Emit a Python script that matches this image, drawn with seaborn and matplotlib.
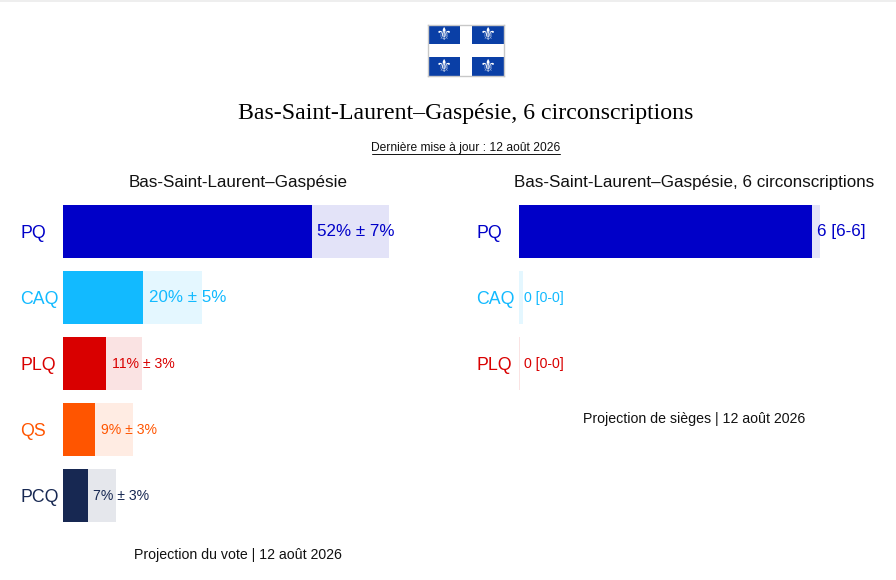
import pandas as pd
import matplotlib
matplotlib.use("Agg")
import matplotlib.pyplot as plt
import seaborn as sns
from matplotlib.lines import Line2D
from matplotlib.patches import Rectangle

W, H = 896, 580

vote_parties = ["PQ", "CAQ", "PLQ", "QS", "PCQ"]
vote_low = [45, 14.5, 7.8, 5.8, 4.5]
vote_high = [59, 25.2, 14.3, 12.7, 9.6]
vote_labels = ["52% ± 7%", "20% ± 5%", "11% ± 3%", "9% ± 3%", "7% ± 3%"]
vote_label_px = [17, 17, 14, 14, 14]

seat_parties = ["PQ", "CAQ", "PLQ"]
seat_low = [6, 0, 0]
seat_high = [6.16, 0.09, 0.02]
seat_labels = ["6 [6-6]", "0 [0-0]", "0 [0-0]"]
seat_label_px = [17, 14, 14]

party_colors = {
    "PQ": "#0000C8",
    "CAQ": "#12BAFF",
    "PLQ": "#D90000",
    "QS": "#FF5500",
    "PCQ": "#172852",
}

sns.set_theme(style="white")
plt.rcParams["font.family"] = ["Liberation Sans", "DejaVu Sans"]


def px(size):
    return size * 0.72


def box(left, top, right, bottom):
    return [left / W, 1 - bottom / H, (right - left) / W, (bottom - top) / H]


def put_text(x, y, text, size, **kwargs):
    return fig.text(x / W, 1 - y / H, text, fontsize=px(size), ha="center",
                    va="center", color=kwargs.pop("color", "#111111"), **kwargs)


def draw_bars(ax, parties, low, high, labels, label_px, xmax, pad):
    df = pd.DataFrame({"party": parties, "low": low, "high": high})
    sns.barplot(data=df, y="party", x="high", hue="party", palette=party_colors,
                order=parties, hue_order=parties, width=53 / 66, alpha=0.11,
                legend=False, dodge=False, saturation=1, linewidth=0, ax=ax)
    sns.barplot(data=df, y="party", x="low", hue="party", palette=party_colors,
                order=parties, hue_order=parties, width=53 / 66,
                legend=False, dodge=False, saturation=1, linewidth=0, ax=ax)
    ax.set_xlim(0, xmax)
    ax.set_xlabel("")
    ax.set_ylabel("")
    ax.set_xticks([])
    sns.despine(ax=ax, left=True, bottom=True)
    ax.patch.set_alpha(0)
    ax.tick_params(axis="y", length=0, pad=px(pad))
    for tick, party in zip(ax.get_yticklabels(), parties):
        tick.set_color(party_colors[party])
        tick.set_ha("left")
        tick.set_fontsize(px(17.8))
    for i, party in enumerate(parties):
        ax.annotate(labels[i], xy=(low[i], i), xytext=(px(5.5), px(-0.8)),
                    textcoords="offset points", va="center", ha="left",
                    color=party_colors[party], fontsize=px(label_px[i]))


fig = plt.figure(figsize=(W / 100, H / 100), dpi=100, facecolor="white")

# faint strip along the top edge
fig.add_artist(Rectangle((0, 1 - 2 / H), 1, 2 / H, transform=fig.transFigure,
                         facecolor="#eeeeee", edgecolor="none"))

# flag
flag = fig.add_axes(box(428, 25, 504, 76))
flag.set_xlim(0, 76)
flag.set_ylim(51, 0)
flag.set_xticks([])
flag.set_yticks([])
for spine in flag.spines.values():
    spine.set_edgecolor("#c8c8c8")
    spine.set_linewidth(1)
for x0, y0 in [(0, 0), (44, 0), (0, 32), (44, 32)]:
    flag.add_patch(Rectangle((x0, y0), 32, 19, facecolor="#0A3FA6", edgecolor="none"))
    flag.text(x0 + 16, y0 + 9.5, "⚜", color="white", fontsize=13,
              ha="center", va="center", family="DejaVu Sans")

put_text(466, 113.5, "Bas-Saint-Laurent–Gaspésie, 6 circonscriptions", 23.9,
         family="Liberation Serif", color="#000000")
sub = put_text(466, 148, "Dernière mise à jour : 12 août 2026", 12)
fig.add_artist(Line2D([372 / W, 560 / W], [1 - 154.5 / H] * 2, color="#111111",
                      linewidth=0.7, transform=fig.transFigure))

ax_vote = fig.add_axes(box(63, 198, 463, 528))
draw_bars(ax_vote, vote_parties, vote_low, vote_high, vote_labels, vote_label_px,
          400 / 5.53, 43)

ax_seat = fig.add_axes(box(519, 198, 880, 396))
draw_bars(ax_seat, seat_parties, seat_low, seat_high, seat_labels, seat_label_px,
          361 / 48.8, 43)

put_text(238, 183, "Bas-Saint-Laurent–Gaspésie", 17)
put_text(694, 183, "Bas-Saint-Laurent–Gaspésie, 6 circonscriptions", 17)
put_text(238, 555, "Projection du vote | 12 août 2026", 14.1)
put_text(694, 419, "Projection de sièges | 12 août 2026", 14.1)

fig.savefig("out.png", dpi=100)
